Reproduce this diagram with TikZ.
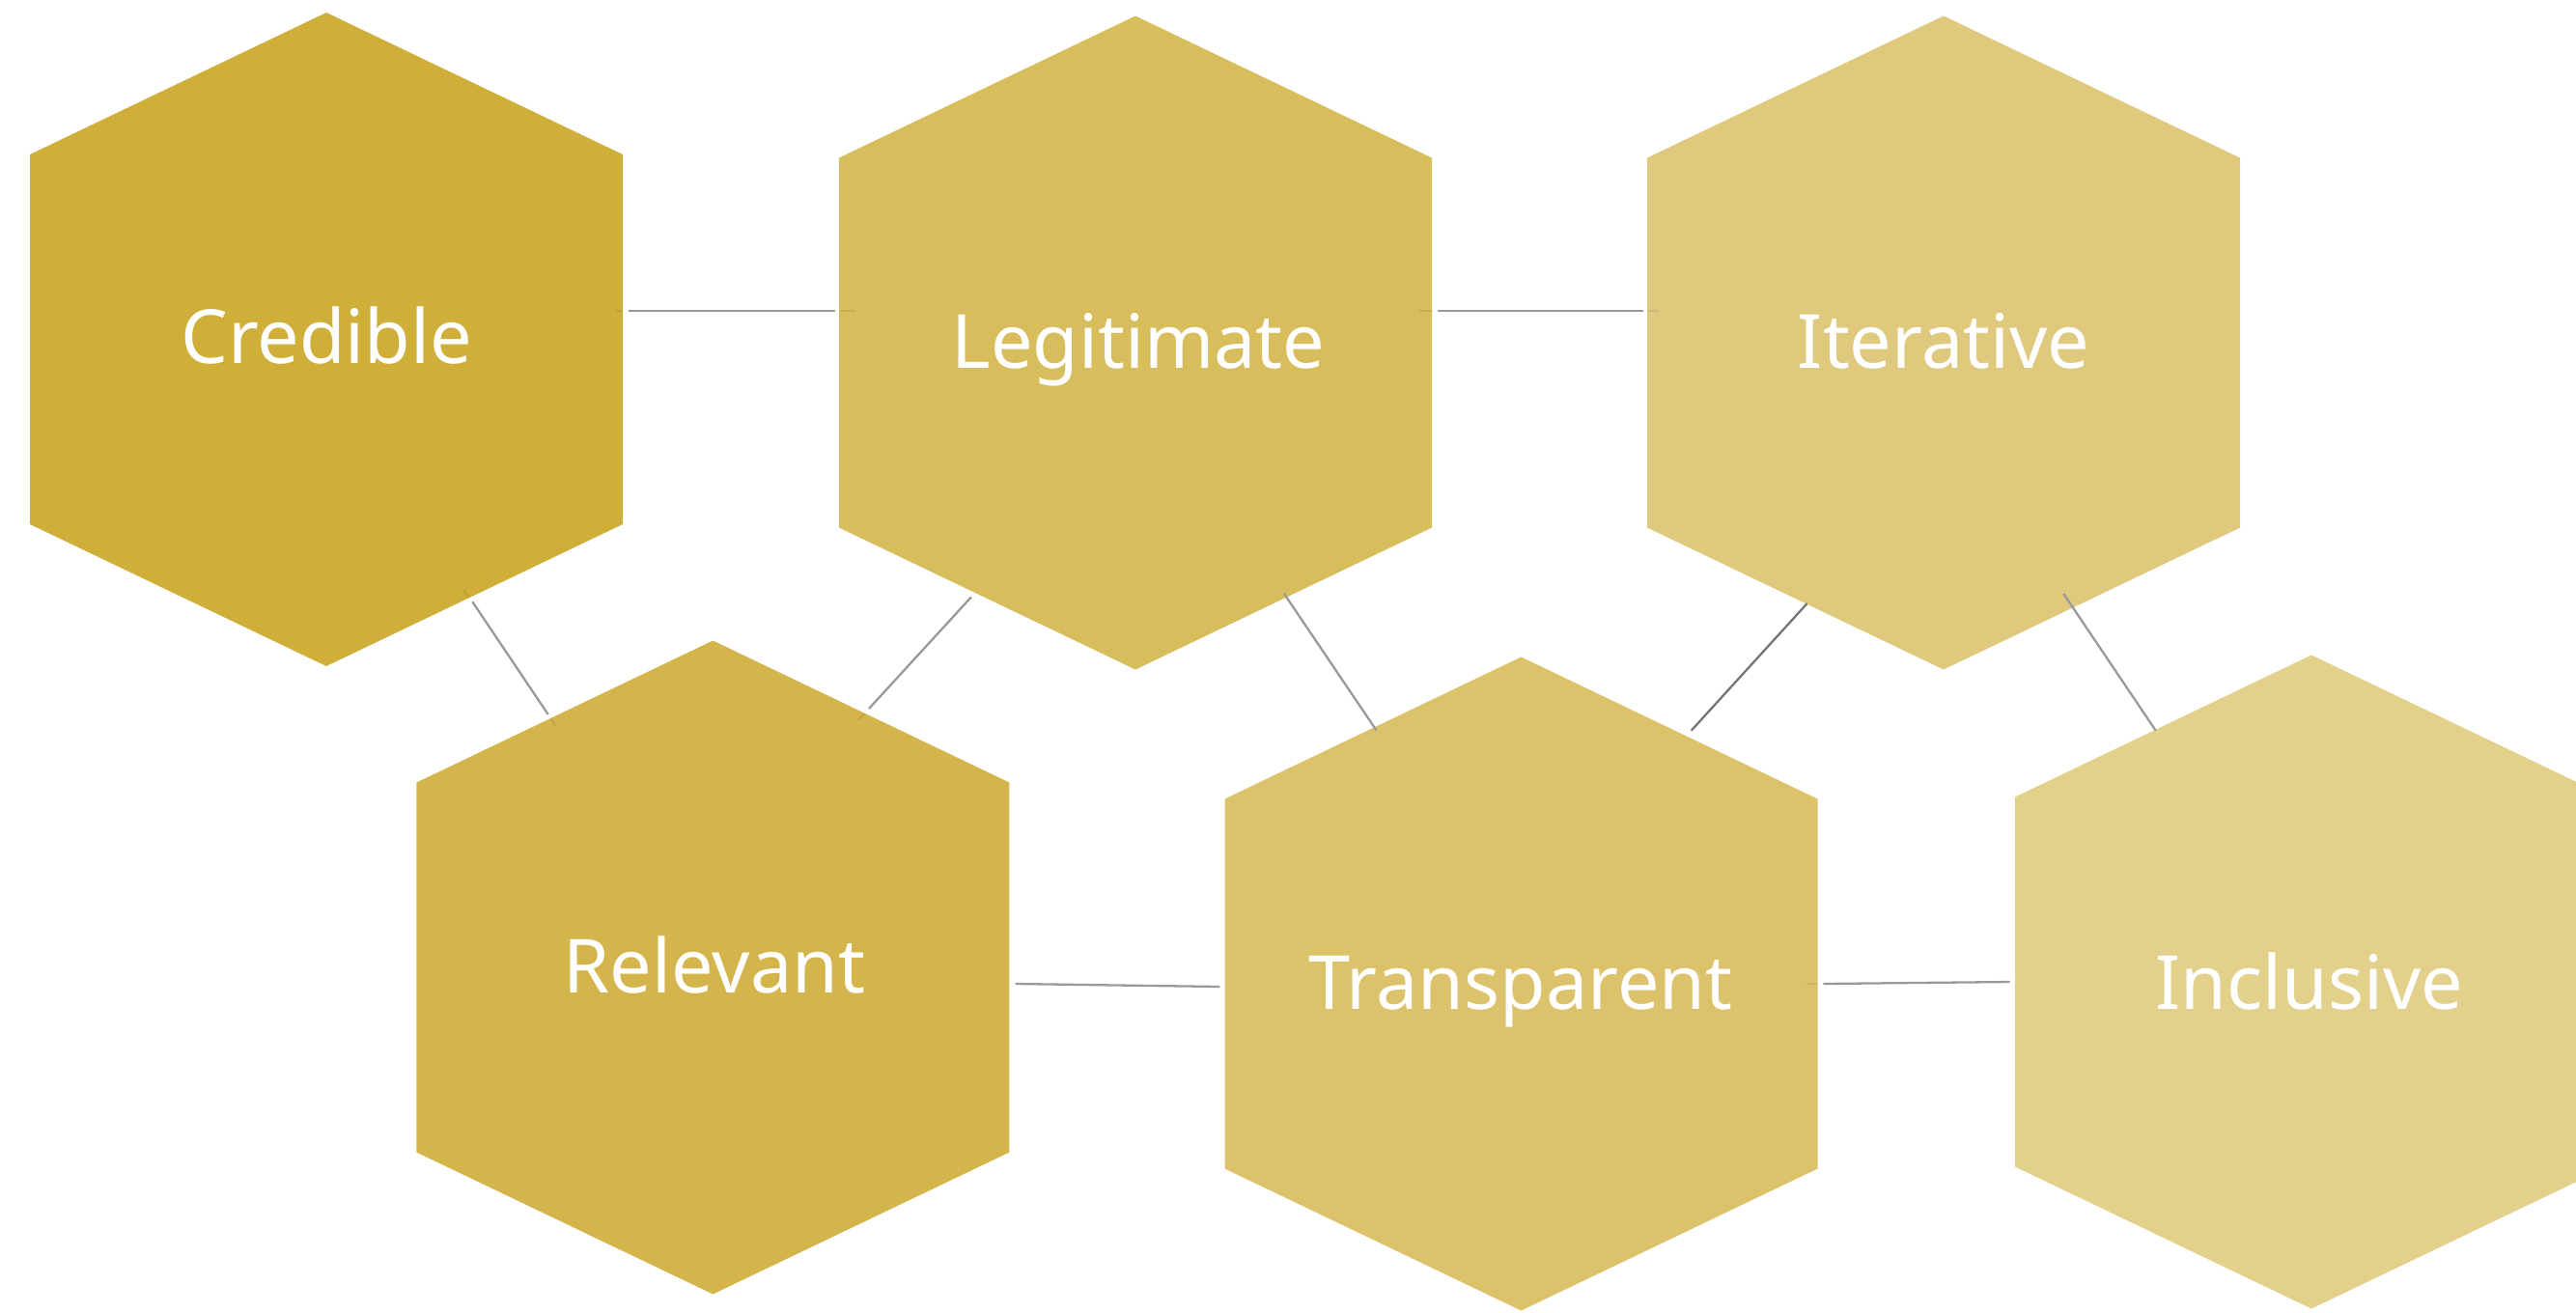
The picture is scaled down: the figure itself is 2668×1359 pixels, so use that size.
\documentclass[tikz,border=0pt]{standalone}
\usepackage{fontspec}
\setmainfont{Noto Sans}
\definecolor{cCred}{HTML}{CFAF3A}
\definecolor{cLegi}{HTML}{D8BD5C}
\definecolor{cIter}{HTML}{DFC97D}
\definecolor{cRele}{HTML}{D4B54B}
\definecolor{cTran}{HTML}{DCC26A}
\definecolor{cIncl}{HTML}{E2D08B}
\definecolor{cLine}{HTML}{999999}
\definecolor{cLineDark}{HTML}{747474}
\tikzset{
  hexa/.pic={\fill[#1] (-307,-191.5) -- (0,-338.5) -- (307,-191.5) -- (307,191.5) -- (0,338.5) -- (-307,191.5) -- cycle;},
  lbl/.style={text=white, anchor=base, font=\fontsize{22}{27}\selectfont, inner sep=0pt},
  conn/.style={draw=cLine, line width=0.65pt},
  conndark/.style={draw=cLineDark, line width=0.65pt},
  stub/.style={draw=black, draw opacity=0.08, line width=0.65pt}
}
\begin{document}
\begin{tikzpicture}[x=0.01cm, y=-0.01cm]
\useasboundingbox (0,0) rectangle (2668,1359);
% hexagons
\pic at (338,351.5) {hexa=cCred};
\pic at (1176,355) {hexa=cLegi};
\pic at (2013,355) {hexa=cIter};
\pic at (738.4,1002) {hexa=cRele};
\pic at (1575.5,1019) {hexa=cTran};
\pic at (2394,1017) {hexa=cIncl};
% labels
\node[lbl] (credible) at (338,376.5) {Credible};
\node[lbl] (legitimate) at (1179,381) {Legitimate};
\node[lbl] (iterative) at (2013,381) {Iterative};
\node[lbl] (relevant) at (740,1028) {Relevant};
\node[lbl] (transparent) at (1575,1045) {Transparent};
\node[lbl] (inclusive) at (2392,1045) {Inclusive};
% connector end points
\coordinate (cl0) at (638,322);  \coordinate (cl1) at (645,322);
\coordinate (cl2) at (651,322);  \coordinate (cl3) at (865,322);
\coordinate (cl4) at (870,322);  \coordinate (cl5) at (886,322);
\coordinate (li0) at (1470,322); \coordinate (li1) at (1484,322);
\coordinate (li2) at (1489,322); \coordinate (li3) at (1701.7,322);
\coordinate (li4) at (1707,322); \coordinate (li5) at (1718,322);
\coordinate (cr0) at (480.7,611.7); \coordinate (cr1) at (485,618.3);
\coordinate (cr2) at (489.3,623.3); \coordinate (cr3) at (567.7,740);
\coordinate (cr4) at (570,743.3); \coordinate (cr5) at (576,752.7);
\coordinate (lr2) at (1006,618.3); \coordinate (lr3) at (900,734);
\coordinate (lr4) at (895,739.3); \coordinate (lr5) at (889.3,746);
\coordinate (lt2) at (1330,615); \coordinate (lt3) at (1425.7,756.7);
\coordinate (it2) at (1871.7,625); \coordinate (it3) at (1751.7,756.7);
\coordinate (iu2) at (2137.3,615); \coordinate (iu3) at (2232.7,756.7);
\coordinate (rt2) at (1051.7,1019); \coordinate (rt3) at (1263.3,1022);
\coordinate (tu0) at (1871,1019); \coordinate (tu1) at (1882,1019);
\coordinate (tu2) at (1888.3,1019); \coordinate (tu3) at (2081.7,1017);
% connectors
\draw[stub] (cl0) -- (cl1); \draw[conn] (cl2) -- (cl3); \draw[stub] (cl4) -- (cl5);
\draw[stub] (li0) -- (li1); \draw[conn] (li2) -- (li3); \draw[stub] (li4) -- (li5);
\draw[stub] (cr0) -- (cr1); \draw[conn] (cr2) -- (cr3); \draw[stub] (cr4) -- (cr5);
\draw[conn] (lr2) -- (lr3); \draw[stub] (lr4) -- (lr5);
\draw[conn] (lt2) -- (lt3);
\draw[conndark] (it2) -- (it3);
\draw[conn] (iu2) -- (iu3);
\draw[conn] (rt2) -- (rt3);
\draw[stub] (tu0) -- (tu1); \draw[conn] (tu2) -- (tu3);
\end{tikzpicture}
\end{document}
